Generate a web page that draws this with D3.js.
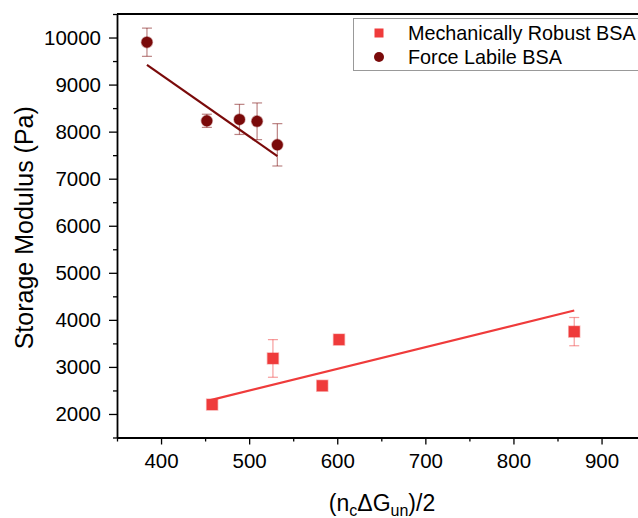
<!DOCTYPE html>
<html>
<head>
<meta charset="utf-8">
<script src="https://cdn.jsdelivr.net/npm/d3@7"></script>
<style>
  body { margin: 0; background: #fff; }
  svg { display: block; font-family: "Liberation Sans", Arial, sans-serif; }
</style>
</head>
<body>
<svg id="plot" width="638" height="518"></svg>
<script>
// Mechanically Robust BSA (squares)
const robustX = [458, 527, 583, 602, 869];
const robustY = [2200, 3180, 2600, 3580, 3750];
const robustErr = [50, 400, 50, 100, 300];
const robustFitX = [455, 869];
const robustFitY = [2290, 4200];

// Force Labile BSA (circles)
const labileX = [384, 452, 489, 509, 532];
const labileY = [9900, 8230, 8260, 8220, 7720];
const labileErr = [300, 140, 320, 390, 450];
const labileFitX = [384, 532];
const labileFitY = [9420, 7480];

const xTicks = [400, 500, 600, 700, 800, 900];
const yTicks = [2000, 3000, 4000, 5000, 6000, 7000, 8000, 9000, 10000];

const RED = "#ef3b3b", DARK = "#7a0a0a";

const svg = d3.select("#plot");
const plotLeft = 117, plotTop = 14, plotBottom = 437.5;
const x = d3.scaleLinear().domain([350, 950]).range([plotLeft, plotLeft + 528.6]);
const y = d3.scaleLinear().domain([1500, 10500]).range([plotBottom, plotTop]);

// minor ticks
svg.append("g")
  .attr("transform", `translate(0,${plotBottom})`)
  .call(d3.axisBottom(x).tickValues(d3.range(350, 951, 100)).tickSize(4).tickFormat(""))
  .call(g => g.select(".domain").remove())
  .selectAll("line").attr("stroke-width", 1.3);
svg.append("g")
  .attr("transform", `translate(${plotLeft},0)`)
  .call(d3.axisLeft(y).tickValues(d3.range(1500, 10501, 1000)).tickSize(4).tickFormat(""))
  .call(g => g.select(".domain").remove())
  .selectAll("line").attr("stroke-width", 1.3);

const xAxis = svg.append("g")
  .attr("transform", `translate(0,${plotBottom})`)
  .call(d3.axisBottom(x).tickValues(xTicks).tickSize(7).tickPadding(9).tickSizeOuter(0)
    .tickFormat(d3.format("d")));
const yAxis = svg.append("g")
  .attr("transform", `translate(${plotLeft},0)`)
  .call(d3.axisLeft(y).tickValues(yTicks).tickSize(8).tickPadding(8).tickSizeOuter(0)
    .tickFormat(d3.format("d")));
[xAxis, yAxis].forEach(g => {
  g.select(".domain").attr("stroke-width", 1.8);
  g.selectAll(".tick line").attr("stroke-width", 1.3);
  g.selectAll("text").attr("font-size", 20.5).attr("fill", "#000")
    .attr("font-family", "Liberation Sans, Arial, sans-serif");
});

// top frame line
svg.append("line")
  .attr("x1", plotLeft).attr("x2", 638).attr("y1", plotTop).attr("y2", plotTop)
  .attr("stroke", "#000").attr("stroke-width", 1.8);

// axis titles
svg.append("text")
  .attr("transform", `translate(33,${(plotTop + plotBottom) / 2 + 2}) rotate(-90)`)
  .attr("text-anchor", "middle").attr("font-size", 25)
  .text("Storage Modulus (Pa)");

const xt = svg.append("text")
  .attr("x", 382).attr("y", 511)
  .attr("text-anchor", "middle").attr("font-size", 23);
xt.append("tspan").text("(n");
xt.append("tspan").attr("font-size", 16).attr("dy", 5).text("c");
xt.append("tspan").attr("dy", -5).text("ΔG");
xt.append("tspan").attr("font-size", 16).attr("dy", 5).text("un");
xt.append("tspan").attr("dy", -5).text(")/2");

function series(xs, ys, errs, fx, fy, color, shape) {
  const g = svg.append("g");
  const pts = xs.map((v, i) => ({ x: v, y: ys[i], e: errs[i] }));
  // fit line
  g.append("line")
    .attr("x1", x(fx[0])).attr("y1", y(fy[0]))
    .attr("x2", x(fx[1])).attr("y2", y(fy[1]))
    .attr("stroke", color).attr("stroke-width", 2.2);
  // error bars
  const eb = g.selectAll(".err").data(pts).enter().append("g")
    .attr("stroke", color).attr("stroke-opacity", 0.5).attr("stroke-width", 1.2);
  eb.append("line")
    .attr("x1", d => x(d.x)).attr("x2", d => x(d.x))
    .attr("y1", d => y(d.y - d.e)).attr("y2", d => y(d.y + d.e));
  [-1, 1].forEach(s => eb.append("line")
    .attr("x1", d => x(d.x) - 5).attr("x2", d => x(d.x) + 5)
    .attr("y1", d => y(d.y + s * d.e)).attr("y2", d => y(d.y + s * d.e)));
  // markers
  if (shape === "square") {
    g.selectAll(".m").data(pts).enter().append("rect")
      .attr("x", d => x(d.x) - 5.5).attr("y", d => y(d.y) - 5.5)
      .attr("width", 11).attr("height", 11)
      .attr("fill", color).attr("stroke", color).attr("stroke-opacity", 0.35).attr("stroke-width", 1.5);
  } else {
    g.selectAll(".m").data(pts).enter().append("circle")
      .attr("cx", d => x(d.x)).attr("cy", d => y(d.y)).attr("r", 5.5)
      .attr("fill", color).attr("stroke", color).attr("stroke-opacity", 0.35).attr("stroke-width", 1.5);
  }
}
series(robustX, robustY, robustErr, robustFitX, robustFitY, RED, "square");
series(labileX, labileY, labileErr, labileFitX, labileFitY, DARK, "circle");

// legend
const lg = svg.append("g");
lg.append("rect").attr("x", 353.5).attr("y", 18.5).attr("width", 300).attr("height", 52)
  .attr("fill", "#fff").attr("stroke", "#999").attr("stroke-width", 1);
lg.append("rect").attr("x", 374.5).attr("y", 28.5).attr("width", 9).attr("height", 9).attr("fill", RED);
lg.append("circle").attr("cx", 379).attr("cy", 57).attr("r", 5).attr("fill", DARK);
lg.append("text").attr("x", 408).attr("y", 40).attr("font-size", 19.8).text("Mechanically Robust BSA");
lg.append("text").attr("x", 408).attr("y", 63.5).attr("font-size", 19.8).text("Force Labile BSA");
</script>
</body>
</html>
